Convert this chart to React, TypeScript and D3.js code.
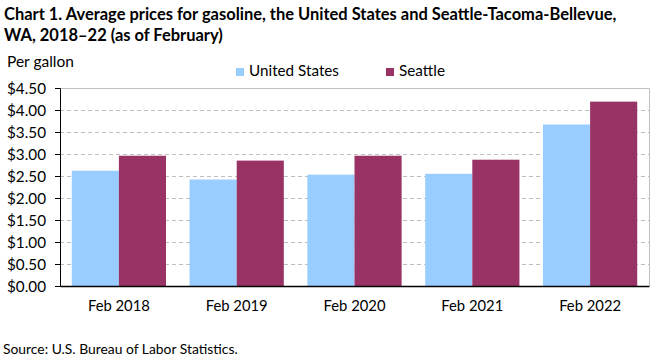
import React, { useEffect, useRef } from 'react';
import * as d3 from 'd3';

const categories = ['Feb 2018', 'Feb 2019', 'Feb 2020', 'Feb 2021', 'Feb 2022'];
const seriesNames = ['United States', 'Seattle'];
const usPrices = [2.62, 2.42, 2.53, 2.55, 3.67];
const seattlePrices = [2.96, 2.85, 2.96, 2.87, 4.19];
const yTicks = [0, 0.5, 1, 1.5, 2, 2.5, 3, 3.5, 4, 4.5];
const colors = ['#99ccff', '#993366'];

const FONT = 'Lato, "Open Sans", sans-serif';

// scale a text's font size so it spans about `target` px (the original uses Calibri)
function fitSize(node: SVGTextElement | null, base: number, target: number) {
  if (!node) return base;
  const w = node.getComputedTextLength();
  return w > 0 ? base * target / w : base;
}

export default function App() {
  const ref = useRef<SVGSVGElement>(null);

  useEffect(() => {
    document.body.style.margin = '0';
    const W = 661, H = 361;
    const margin = { top: 88, right: 12, bottom: 75, left: 60 };
    const width = W - margin.left - margin.right;
    const height = H - margin.top - margin.bottom;

    const svg = d3.select(ref.current);
    svg.selectAll('*').remove();
    svg.attr('width', W).attr('height', H);

    // title
    const t1 = svg.append('text')
      .attr('x', 4).attr('y', 20)
      .attr('font-family', FONT).attr('font-weight', 'bold').attr('font-size', 16)
      .text('Chart 1. Average prices for gasoline, the United States and Seattle-Tacoma-Bellevue,');
    const titleSize = fitSize(t1.node(), 16, 613);
    t1.attr('font-size', titleSize);
    svg.append('text')
      .attr('x', 4).attr('y', 41)
      .attr('font-family', FONT).attr('font-weight', 'bold').attr('font-size', titleSize)
      .text('WA, 2018–22 (as of February)');

    const per = svg.append('text')
      .attr('x', 7).attr('y', 67)
      .attr('font-family', FONT).attr('font-size', 15)
      .text('Per gallon');
    per.attr('font-size', fitSize(per.node(), 15, 67));

    // legend
    const legendX = [236, 386];
    const legendW = [90, 46];
    seriesNames.forEach((name, i) => {
      svg.append('rect')
        .attr('x', legendX[i]).attr('y', 68)
        .attr('width', 8).attr('height', 8)
        .attr('fill', colors[i]);
      const lt = svg.append('text')
        .attr('x', legendX[i] + 13).attr('y', 76)
        .attr('font-family', FONT).attr('font-size', 15)
        .text(name);
      lt.attr('font-size', fitSize(lt.node(), 15, legendW[i]));
    });

    const g = svg.append('g').attr('transform', `translate(${margin.left},${margin.top})`);

    const x0 = d3.scaleBand().domain(categories).range([0, width]).paddingInner(0).paddingOuter(0);
    const groupW = x0.bandwidth() * 0.8;
    const x1 = d3.scaleBand().domain(seriesNames).range([0, groupW]);
    const y = d3.scaleLinear().domain([0, 4.5]).range([height, 0]);

    // gridlines
    g.selectAll('.grid')
      .data(yTicks.filter(t => t > 0 && t < 4.5))
      .enter().append('line')
      .attr('x1', 0).attr('x2', width)
      .attr('y1', d => Math.round(y(d)) + 0.5).attr('y2', d => Math.round(y(d)) + 0.5)
      .attr('stroke', '#bfbfbf')
      .attr('stroke-dasharray', '4,3');

    // plot border top/right
    g.append('path')
      .attr('d', `M0,${Math.round(y(4.5)) + 0.5}H${Math.round(width) + 0.5}V${height}`)
      .attr('fill', 'none')
      .attr('stroke', '#bfbfbf');

    // bars
    const data = categories.map((c, i) => ({ cat: c, vals: [usPrices[i], seattlePrices[i]] }));
    const groups = g.selectAll('.grp')
      .data(data)
      .enter().append('g')
      .attr('transform', d => `translate(${(x0(d.cat) as number) + (x0.bandwidth() - groupW) / 2},0)`);
    groups.selectAll('rect')
      .data(d => d.vals.map((v, i) => ({ key: seriesNames[i], v, i })))
      .enter().append('rect')
      .attr('x', d => x1(d.key) as number)
      .attr('width', x1.bandwidth())
      .attr('y', d => y(d.v))
      .attr('height', d => height - y(d.v))
      .attr('fill', d => colors[d.i]);

    // y axis
    const yAxis = g.append('g')
      .call(d3.axisLeft(y).tickValues(yTicks).tickSize(5).tickFormat(d => '$' + d3.format('.2f')(d as number)));
    yAxis.select('.domain').attr('stroke', '#000');
    yAxis.selectAll('line').attr('stroke', '#000');
    const yText = yAxis.selectAll<SVGTextElement, unknown>('text')
      .attr('font-family', FONT).attr('font-size', 15).attr('fill', '#000')
      .attr('x', -14).attr('dy', '0.35em');
    const ySize = fitSize(yText.nodes()[yText.size() - 1], 15, 39);
    yText.attr('font-size', ySize);

    // x axis
    const xAxis = g.append('g')
      .attr('transform', `translate(0,${height})`)
      .call(d3.axisBottom(x0).tickSize(0).tickPadding(12));
    xAxis.select('.domain').attr('stroke', '#000').attr('stroke-width', 1.5);
    const xText = xAxis.selectAll<SVGTextElement, unknown>('text')
      .attr('font-family', FONT).attr('font-size', 15).attr('fill', '#000')
      .attr('dy', '0.9em');
    xText.attr('font-size', fitSize(xText.nodes()[0], 15, 62));

    const src = svg.append('text')
      .attr('x', 3).attr('y', 354)
      .attr('font-family', FONT).attr('font-size', 13)
      .text('Source: U.S. Bureau of Labor Statistics.');
    src.attr('font-size', fitSize(src.node(), 13, 235));
  }, []);

  return <svg ref={ref} style={{ display: 'block' }} />;
}
